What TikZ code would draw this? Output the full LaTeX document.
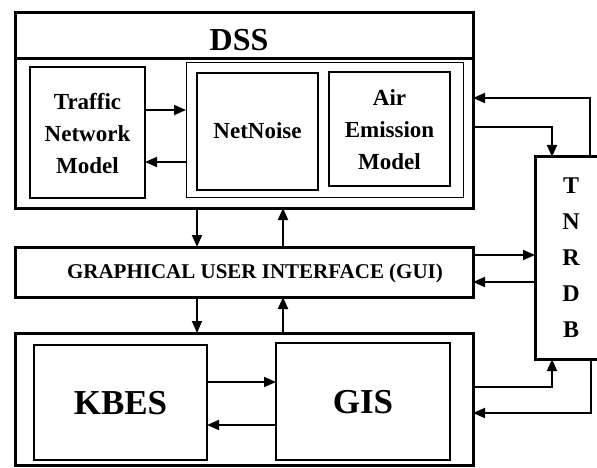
\documentclass[tikz,border=0pt]{standalone}
\usepackage{fontspec}
\setmainfont{Liberation Serif}
\usetikzlibrary{arrows.meta}
\begin{document}
\begin{tikzpicture}[x=1pt,y=-1pt,
  outerbox/.style={draw, line width=3pt, inner sep=0pt, outer sep=0pt},
  innerbox/.style={draw, line width=1.1pt, inner sep=0pt, outer sep=0pt},
  arr/.style={line width=1.8pt, -{Triangle[length=12pt,width=10pt]}},
  lbl/.style={font=\bfseries\fontsize{23}{32}\selectfont, align=center},
  big/.style={font=\bfseries\fontsize{35}{40}\selectfont}
]
\useasboundingbox (0,0) rectangle (597,468);
\clip (0,0) rectangle (597,468);

% DSS block
\node (dss) [outerbox, minimum width=458pt, minimum height=195pt] at (244,110.5) {};
\draw[line width=3pt] (dss.west |- {(0,59)}) -- (dss.east |- {(0,59)});
\node (dsst) [font=\bfseries\fontsize{32}{36}\selectfont] at (239,40) {DSS};

\node (tnm) [innerbox, minimum width=115pt, minimum height=131pt] at (87.5,132.5) {};
\node (tnmt) [lbl] at (87.5,134) {Traffic\\Network\\Model};

\node (nnout) [innerbox, line width=1pt, minimum width=277pt, minimum height=134pt] at (324.5,130) {};
\node (nn) [innerbox, minimum width=121pt, minimum height=117pt] at (257.5,131.5) {};
\node (nnt) [lbl] at (257.5,131) {NetNoise};
\node (air) [innerbox, minimum width=121pt, minimum height=114pt] at (389.5,129) {};
\node (airt) [lbl] at (389.5,130) {Air\\Emission\\Model};

% GUI
\node (gui) [outerbox, minimum width=458pt, minimum height=50pt] at (244,272) {};
\node (guit) [font=\bfseries\fontsize{21}{24}\selectfont] at (255,273) {GRAPHICAL USER INTERFACE (GUI)};

% bottom block
\node (bot) [outerbox, minimum width=458pt, minimum height=132pt] at (244,399) {};
\node (kbes) [innerbox, minimum width=173pt, minimum height=115pt] at (120.5,402.5) {};
\node (kbest) [big] at (120.5,403) {KBES};
\node (gis) [innerbox, minimum width=174pt, minimum height=117pt] at (363,401.5) {};
\node (gist) [big] at (363,402) {GIS};

% TNRDB
\node (tn) [outerbox, minimum width=75pt, minimum height=202pt] at (572.5,258) {};
\node (tnt) [font=\bfseries\fontsize{24}{36}\selectfont, align=center] at (571,258) {T\\N\\R\\D\\B};

% arrows inside DSS
\draw[arr] (tnm.east |- {(0,110)}) -- (nnout.west |- {(0,110)});
\draw[arr] (nnout.west |- {(0,162)}) -- (tnm.east |- {(0,162)});

% DSS <-> TNRDB
\draw[arr] (tn.north -| {(590,0)}) |- (dss.east |- {(0,98)});
\draw[arr] (dss.east |- {(0,127)}) -| (tn.north -| {(552,0)});

% DSS <-> GUI
\draw[arr] (dss.south -| {(197,0)}) -- (gui.north -| {(197,0)});
\draw[arr] (gui.north -| {(283,0)}) -- (dss.south -| {(283,0)});

% GUI <-> bottom
\draw[arr] (gui.south -| {(197,0)}) -- (bot.north -| {(197,0)});
\draw[arr] (bot.north -| {(283,0)}) -- (gui.south -| {(283,0)});

% GUI <-> TNRDB
\draw[arr] (gui.east |- {(0,255)}) -- (tn.west |- {(0,255)});
\draw[arr] (tn.west |- {(0,282)}) -- (gui.east |- {(0,282)});

% KBES <-> GIS
\draw[arr] (kbes.east |- {(0,382)}) -- (gis.west |- {(0,382)});
\draw[arr] (gis.west |- {(0,425)}) -- (kbes.east |- {(0,425)});

% bottom <-> TNRDB
\draw[arr] (bot.east |- {(0,387)}) -| (tn.south -| {(552,0)});
\draw[arr] (tn.south -| {(591,0)}) |- (bot.east |- {(0,413)});
\end{tikzpicture}
\end{document}
